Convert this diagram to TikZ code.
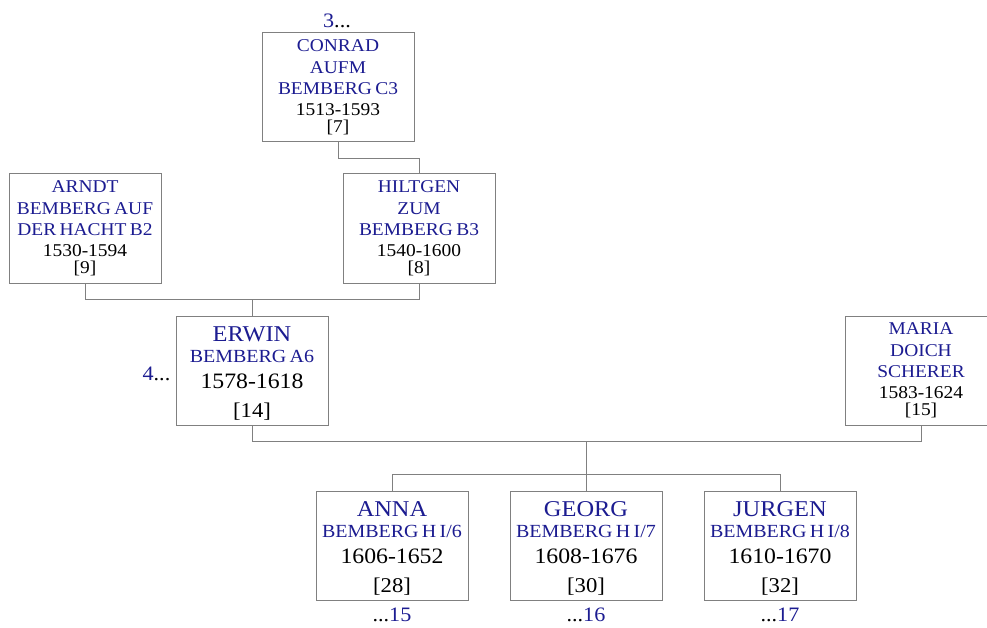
\documentclass[tikz,border=0pt]{standalone}
\usepackage{fontspec}
\setmainfont{Liberation Serif}[FakeStretch=1.08]
\usetikzlibrary{calc}
\definecolor{nb}{RGB}{28,28,145}
\definecolor{ln}{RGB}{128,128,128}
\newcommand\SN[1]{{\fontsize{18}{21.5}\selectfont\leavevmode\color{nb}#1\par}}
\newcommand\SD[1]{{\fontsize{18}{20.5}\selectfont #1\par}}
\newcommand\SR[1]{{\fontsize{18}{17.5}\selectfont [#1]\par}}
\newcommand\BN[1]{{\fontsize{22.6}{23}\selectfont\leavevmode\color{nb}\rule{0pt}{20.5pt}#1\par}}
\newcommand\BS[1]{{\fontsize{18.5}{21}\selectfont\leavevmode\color{nb}#1\par}}
\newcommand\BD[1]{{\fontsize{22}{26}\selectfont #1\par}}
\newcommand\BR[1]{{\fontsize{21}{29}\selectfont [#1]\par}}
\begin{document}
\begin{tikzpicture}[x=1pt,y=-1pt,
  person/.style={draw=ln, line width=1pt, minimum width=152pt, minimum height=109pt,
    inner sep=0pt, text width=152pt, align=center},
  conn/.style={draw=ln, line width=1pt},
  more/.style={inner sep=0pt, font=\fontsize{20.5}{24}\selectfont}]
\clip (0,0) rectangle (987,628);
\fill[white] (0,0) rectangle (987,628);

\node[person] (conrad) at (338,87.5) {\SN{CONRAD\\AUFM\\BEMBERG C3}\SD{1513-1593}\SR{7}};
\node[person] (arndt) at (85,228.5) {\SN{ARNDT\\BEMBERG AUF\\DER HACHT B2}\SD{1530-1594}\SR{9}};
\node[person] (hiltgen) at (419,228.5) {\SN{HILTGEN\\ZUM\\BEMBERG B3}\SD{1540-1600}\SR{8}};
\node[person] (erwin) at (252,370.5) {\BN{ERWIN}\BS{BEMBERG A6}\BD{1578-1618}\BR{14}};
\node[person] (maria) at (921,370.5) {\SN{MARIA\\DOICH\\SCHERER}\SD{1583-1624}\SR{15}};
\node[person] (anna) at (392,545.5) {\BN{ANNA}\BS{BEMBERG H I/6}\BD{1606-1652}\BR{28}};
\node[person] (georg) at (586,545.5) {\BN{GEORG}\BS{BEMBERG H I/7}\BD{1608-1676}\BR{30}};
\node[person] (jurgen) at (780,545.5) {\BN{JURGEN}\BS{BEMBERG H I/8}\BD{1610-1670}\BR{32}};

\node[more, anchor=base] (m3) at (337,28) {\textcolor{nb}{3}...};
\node[more, anchor=base east] (m4) at ([xshift=-5pt]erwin.west |- 0,380) {\textcolor{nb}{4}...};
\node[more, anchor=base] (m15) at ([yshift=-21pt]anna.south) {...\textcolor{nb}{15}};
\node[more, anchor=base] (m16) at ([yshift=-21pt]georg.south) {...\textcolor{nb}{16}};
\node[more, anchor=base] (m17) at ([yshift=-21pt]jurgen.south) {...\textcolor{nb}{17}};

\draw[conn] (conrad.south) -- ++(0,16) -| (hiltgen.north);
\draw[conn] (arndt.south) -- ++(0,16) -| (hiltgen.south);
\draw[conn] (erwin.north) -- ++(0,-17);
\draw[conn] (erwin.south) -- ++(0,16) -| (maria.south);
\coordinate (fam) at ($(erwin.south)!0.5!(maria.south)+(0,16)$);
\draw[conn] (fam) -- ++(0,34);
\draw[conn] (anna.north) -- ++(0,-16) -| (jurgen.north);
\draw[conn] (georg.north) -- ++(0,-16);
\end{tikzpicture}
\end{document}
